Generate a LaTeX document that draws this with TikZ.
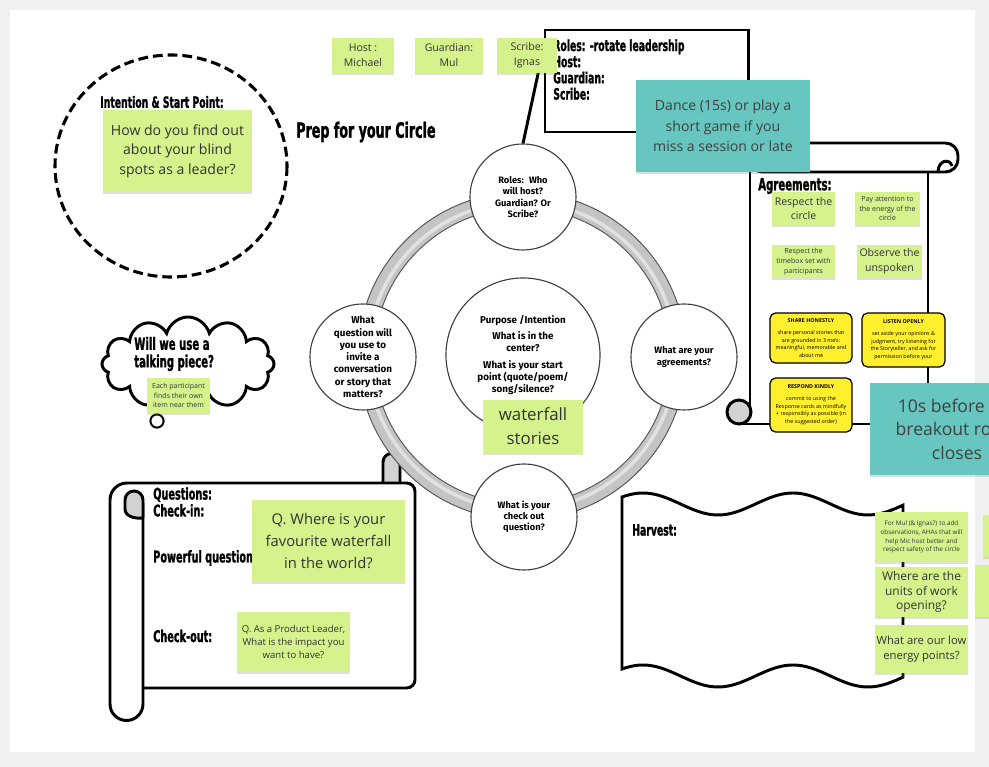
\documentclass[tikz,border=0pt]{standalone}
\usepackage{fontspec}
\setmainfont{Open Sans}
\newfontfamily\headfont{DejaVu Sans Bold}[FakeStretch=0.6, FakeBold=1.2]
\newfontfamily\topicfont{Fira Sans}
\usetikzlibrary{shapes.symbols, shadows}
\definecolor{stickygreen}{RGB}{213,242,141}
\definecolor{stickyteal}{RGB}{103,198,192}
\definecolor{cardyellow}{RGB}{255,239,45}
\definecolor{boardgray}{RGB}{240,240,240}
\definecolor{ringgray}{RGB}{196,196,196}

\begin{document}
\begin{tikzpicture}[x=0.025cm, y=-0.025cm,
  sticky/.style={fill=stickygreen, text=black!80, align=center, inner sep=1pt,
    drop shadow={shadow xshift=0pt, shadow yshift=-1.6pt, opacity=0.25}},
  tealnote/.style={fill=stickyteal, text=black!75, align=center, inner sep=1pt,
    drop shadow={shadow xshift=0pt, shadow yshift=-1.6pt, opacity=0.25}},
  card/.style={fill=cardyellow, draw=black, line width=0.9pt, rounded corners=4pt, align=center,
    inner sep=1pt, font=\fontsize{3.8}{5.4}\selectfont},
  topic/.style={circle, draw=black!75, line width=0.8pt, fill=white, minimum size=2.65cm,
    align=center, inner sep=0pt, font=\topicfont\bfseries\fontsize{6.6}{8}\selectfont},
  frame/.style={draw=black, line width=2.1pt},
  heading/.style={font=\headfont\fontsize{11}{12.5}\selectfont, align=left, inner sep=0pt, anchor=west},
  dashring/.style={draw=black, line width=2.2pt, dash pattern=on 7pt off 3.5pt},
]
% board
\clip (0,0) rectangle (989,767);
\fill[boardgray] (0,0) rectangle (989,767);
\fill[white] (10,10) rectangle (975,752);

% intention & start point
\draw[dashring] (171,166) ellipse (116 and 111);
\node[heading] (intenthead) at (100,102) {Intention \& Start Point:};
\node[sticky, minimum width=3.725cm, minimum height=2.05cm, font=\fontsize{10}{14}\selectfont] (blindspot) at (177.5,151) {How do you find out\\about your blind\\spots as a leader?};
\node[heading, font=\headfont\fontsize{15}{16}\selectfont] (prep) at (296,132) {Prep for your Circle};

% talking piece
\node[cloud, frame, cloud puffs=12, cloud ignores aspect, minimum width=4.3cm, minimum height=2.35cm] (cloud) at (188,364) {};
\node[heading, font=\headfont\fontsize{12}{12.5}\selectfont] (talking) at (134,354) {Will we use a\\talking piece?};
\node[circle, draw, line width=1.4pt, minimum size=0.33cm, inner sep=0pt] (bubble) at (157,421) {};
\node[sticky, minimum width=1.575cm, minimum height=0.875cm, font=\fontsize{5}{7}\selectfont] (eachitem) at (178.5,395.5) {Each participant\\finds their own\\item near them};

% questions scroll
\draw[frame, fill=gray!35] (383,483) -- (383,462) arc (180:360:8.5) -- (400,483);
\draw[frame, rounded corners=6pt] (143,688) -- (415,688) -- (415,483) -- (127,483);
\draw[frame] (127,483) arc (270:180:17) -- (110,704) arc (180:0:16.5) -- (143,503);
\draw[frame, fill=gray!35] (143,518) -- (143,500) arc (0:-180:9) -- (125,509) .. controls (125,516) and (134,519) .. (143,518);
\node[heading, anchor=north west, font=\headfont\fontsize{11.5}{12}\selectfont] (questhead) at (153,487) {Questions:\\Check-in:};
\node[heading, font=\headfont\fontsize{11.5}{12}\selectfont] (powerhead) at (153,558) {Powerful question};
\node[heading, font=\headfont\fontsize{11.5}{12}\selectfont] (checkouthead) at (153,636) {Check-out:};
\node[sticky, minimum width=3.825cm, minimum height=2.05cm, font=\fontsize{10.5}{15.3}\selectfont] (waterfallq) at (328.5,541) {Q. Where is your\\favourite waterfall\\in the world?};
\node[sticky, minimum width=2.825cm, minimum height=1.5cm, font=\fontsize{6.8}{9}\selectfont] (impactq) at (293.5,642) {Q. As a Product Leader,\\What is the impact you\\want to have?};

% harvest flag
\draw[frame] plot[domain=622:903, samples=70, smooth] (\x, {504-11*cos(2.4*(\x-643))})
  -- plot[domain=903:622, samples=70, smooth] (\x, {676-11*cos(2.4*(\x-643))}) -- cycle;
\node[heading] (harvesthead) at (632,530) {Harvest:};

% agreements scroll
\draw[frame] (750,172) -- (750,412);
\draw[frame] (928,172) -- (928,424) -- (739,424);
\draw[frame, fill=gray!35] (739,412) circle (12);
\draw[frame, fill=white, rounded corners=9pt] (750,143) rectangle (958,172);
\draw[frame] (938,172) .. controls (938,160) and (950,158) .. (952,166);
\node[heading, font=\headfont\fontsize{12}{13}\selectfont] (agreehead) at (758,186) {Agreements:};
\node[sticky, minimum width=1.575cm, minimum height=0.825cm, font=\fontsize{7.5}{10.5}\selectfont] (respect) at (803.5,208.5) {Respect the\\circle};
\node[sticky, minimum width=1.625cm, minimum height=0.825cm, font=\fontsize{5}{7}\selectfont] (energy) at (887.5,208.5) {Pay attention to\\the energy of the\\circle};
\node[sticky, minimum width=1.575cm, minimum height=0.825cm, font=\fontsize{5}{7}\selectfont] (timebox) at (803.5,261.5) {Respect the\\timebox set with\\participants};
\node[sticky, minimum width=1.625cm, minimum height=0.825cm, font=\fontsize{7.5}{10.5}\selectfont] (unspoken) at (889.5,261.5) {Observe the\\unspoken};
\node[card, minimum width=2.05cm, minimum height=1.25cm] (share) at (811,338) {\textbf{SHARE HONESTLY}\\[3pt]share personal stories that\\are grounded in 3 me's:\\meaningful, memorable and\\about me};
\node[card, minimum width=2.075cm, minimum height=1.35cm] (listen) at (903.5,340) {\textbf{LISTEN OPENLY}\\[3pt]set aside your opinions \&\\judgment, try listening for\\the Storyteller, and ask for\\permission before your};
\node[card, minimum width=2.05cm, minimum height=1.35cm] (respond) at (811,405) {\textbf{RESPOND KINDLY}\\[3pt]commit to using the\\Response cards as mindfully\\+ responsibly as possible (in\\the suggested order)};

% roles box
\node[frame, minimum width=5.075cm, minimum height=2.55cm] (rolesbox) at (646.5,81) {};
\node[heading, anchor=north west, font=\headfont\fontsize{11}{11.5}\selectfont] (rolestext) at (553,39) {Roles: -rotate leadership\\Host:\\Guardian:\\Scribe:};

% circle of questions
\coordinate (ringc) at (522,356);
\draw[line width=11.4pt, ringgray] (ringc) circle (156);
\draw[line width=2.5pt, white, opacity=0.5] (ringc) circle (154);
\draw[line width=0.7pt, black!65] (ringc) circle (164) (ringc) circle (148);
\node[topic] (rolesq) at (523,197) {Roles:~ Who\\will host?\\Guardian? Or\\Scribe?};
\node[topic, font=\topicfont\bfseries\fontsize{7}{8.7}\selectfont] (storyq) at (363,357) {What\\question will\\you use to\\invite a\\conversation\\or story that\\matters?};
\node[topic] (agreeq) at (684,357) {What are your\\agreements?};
\node[topic] (checkoutq) at (524,517) {What is your\\check out\\question?};
\node[topic, minimum size=3.85cm, font=\topicfont\bfseries\fontsize{7}{8.7}\selectfont] (purpose) at (523,355) {Purpose /Intention\\[3pt]What is in the\\center?\\[3pt]What is your start\\point (quote/poem/\\song/silence?};
\coordinate (rolestail) at (541,60);
\draw[frame] (rolestail) -- (rolesq.north);
\node[sticky, minimum width=2.5cm, minimum height=1.325cm, font=\fontsize{12}{17}\selectfont] (waterfall) at (533,426.5) {waterfall\\stories};

% roles stickies
\node[sticky, minimum width=1.55cm, minimum height=0.875cm, font=\fontsize{7.5}{10.7}\selectfont] (host) at (363,55.5) {Host :\\Michael};
\node[sticky, minimum width=1.7cm, minimum height=0.875cm, font=\fontsize{7.5}{10.7}\selectfont] (guardian) at (449,55.5) {Guardian:\\Mul};
\node[sticky, minimum width=1.5cm, minimum height=0.875cm, font=\fontsize{7.5}{10.7}\selectfont] (scribe) at (527,55.5) {Scribe:\\Ignas};

% timing notes
\node[tealnote, minimum width=4.35cm, minimum height=2.3cm, font=\fontsize{10}{14.5}\selectfont] (dance) at (723,126) {Dance (15s) or play a\\short game if you\\miss a session or late};
\node[tealnote, minimum width=4.35cm, minimum height=2.3cm, font=\fontsize{12.5}{16.7}\selectfont] (tensec) at (957,429) {10s before the\\breakout room\\closes};

% harvest stickies
\node[sticky, minimum width=2.325cm, minimum height=1.25cm, font=\fontsize{4.5}{6.2}\selectfont] (formul) at (921.5,537) {For Mul (\& Ignas?) to add\\observations, AHAs that will\\help Mic host better and\\respect safety of the circle};
\node[sticky, minimum width=2.325cm, minimum height=1.25cm, font=\fontsize{8.5}{10.5}\selectfont] (units) at (921.5,592) {Where are the\\units of work\\opening?};
\node[sticky, minimum width=2.325cm, minimum height=1.2cm, font=\fontsize{8}{11}\selectfont] (lowenergy) at (921.5,649) {What are our low\\energy points?};
\node[sticky, minimum width=2.325cm, minimum height=1.05cm] (spillone) at (1029.5,536) {};
\node[sticky, minimum width=2.325cm, minimum height=1.3cm] (spilltwo) at (1021.5,591) {};
\end{tikzpicture}
\end{document}
